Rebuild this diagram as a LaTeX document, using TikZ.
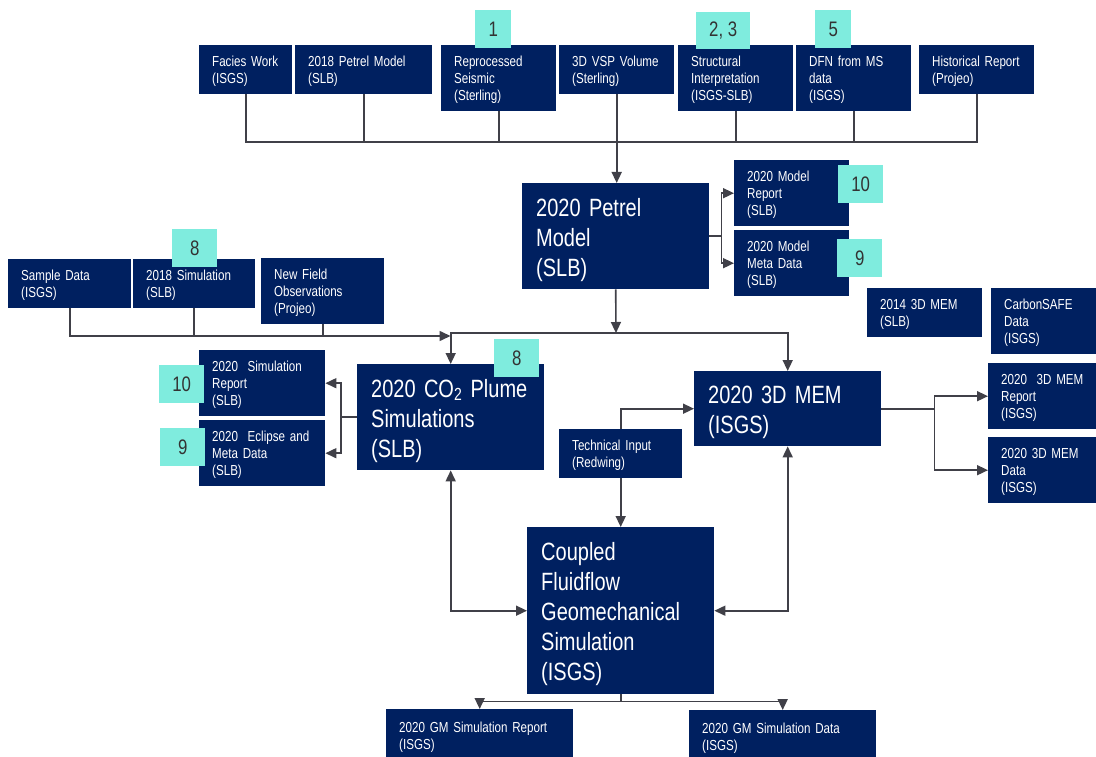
\documentclass[tikz,border=0pt]{standalone}
\usepackage{fontspec}
\setmainfont{Liberation Sans}[FakeStretch=0.8]
\usetikzlibrary{arrows.meta}

\definecolor{navy}{RGB}{0,32,96}
\definecolor{badgecyan}{RGB}{127,236,222}
\definecolor{badgegray}{RGB}{51,51,51}
\definecolor{linegray}{RGB}{64,64,72}
\newcommand{\smalltxt}{\fontsize{14.5}{17}\selectfont}
\newcommand{\bigtxt}{\fontsize{25}{30}\selectfont}
\newcommand{\badgetxt}{\fontsize{21}{24}\selectfont}

\begin{document}
\begin{tikzpicture}[x=1pt,y=-1pt,>={Triangle[length=11pt,width=10pt]},
    box/.style 2 args={fill=navy,text=white,anchor=north west,align=left,
      inner xsep=13pt,inner ysep=0pt,text width=#1pt,minimum height=#2pt,
      text height=14.5pt,font=\smalltxt},
    bigbox/.style 2 args={box={#1}{#2},inner xsep=14pt,text height=25pt,font=\bigtxt},
    badge/.style 2 args={fill=badgecyan,text=badgegray,anchor=north west,inner sep=0pt,
      minimum width=#1pt,minimum height=#2pt,font=\badgetxt},
    link/.style={draw=linegray,line width=1.6pt}]

  \fill[white] (0,0) rectangle (1096,757);
  \useasboundingbox (0,0) rectangle (1096,757);

  % inputs
  \node[box={67}{49}]  (facies)   at (199,45) {Facies Work\\(ISGS)};
  \node[box={111}{49}] (oldpetrel) at (295,45) {2018 Petrel Model\\(SLB)};
  \node[box={89}{66}]  (seismic)  at (441,45) {Reprocessed\\Seismic\\(Sterling)};
  \node[box={89}{49}]  (vsp)      at (559,45) {3D VSP Volume\\(Sterling)};
  \node[box={89}{66}]  (struct)   at (678,45) {Structural\\Interpretation\\(ISGS-SLB)};
  \node[box={89}{66}]  (dfn)      at (796,45) {DFN from MS\\data\\(ISGS)};
  \node[box={89}{49}]  (hist)     at (919,45) {Historical Report\\(Projeo)};

  \node[bigbox={159}{106}] (petrel) at (522,183) {2020 Petrel\\Model\\(SLB)};
  \node[box={89}{66}]  (mreport)  at (734,160) {2020 Model\\Report\\(SLB)};
  \node[box={89}{66}]  (mmeta)    at (734,230) {2020 Model\\Meta Data\\(SLB)};

  \node[box={97}{49}]  (sample)   at (8,259)   {Sample Data\\(ISGS)};
  \node[box={96}{49}]  (oldsim)   at (133,259) {2018 Simulation\\(SLB)};
  \node[box={97}{66}]  (newfield) at (261,258) {New Field\\Observations\\(Projeo)};
  \node[box={89}{49}]  (oldmem)   at (867,288) {2014 3D MEM\\(SLB)};
  \node[box={89}{66}]  (carbon)   at (991,288) {CarbonSAFE\\Data\\(ISGS)};

  \node[box={100}{66}] (simrep)   at (199,350) {2020\ \ Simulation\\Report\\(SLB)};
  \node[box={100}{66}] (eclipse)  at (199,420) {2020\ \ Eclipse and\\Meta Data\\(SLB)};
  \node[bigbox={159}{106}] (co2)  at (357,364) {2020 CO\textsubscript{2} Plume\\Simulations\\(SLB)};
  \node[bigbox={159}{75}]  (mem)  at (694,371) {2020 3D MEM\\(ISGS)};
  \node[box={89}{66}]  (memrep)   at (988,363) {2020\ \ 3D MEM\\Report\\(ISGS)};
  \node[box={89}{66}]  (memdata)  at (988,437) {2020 3D MEM\\Data\\(ISGS)};
  \node[box={97}{49}]  (tech)     at (559,429) {Technical Input\\(Redwing)};

  \node[bigbox={159}{167}] (coupled) at (527,527) {Coupled\\Fluidflow\\Geomechanical\\Simulation\\(ISGS)};
  \node[box={161}{53}] (gmrep)    at (386,709) {2020 GM Simulation Report\\(ISGS)};
  \node[box={161}{53}] (gmdata)   at (689,710) {2020 GM Simulation Data\\(ISGS)};

  % connectors
  \coordinate (topbus) at (0,142);
  \coordinate (lbus) at (450.5,336);
  \coordinate (junc) at (616,333);

  \draw[link] (facies.south) -- (facies.south |- topbus) -- (hist.south |- topbus) -- (hist.south);
  \draw[link] (oldpetrel.south) -- (oldpetrel.south |- topbus);
  \draw[link] (seismic.south) -- (seismic.south |- topbus);
  \draw[link] (struct.south) -- (struct.south |- topbus);
  \draw[link] (dfn.south) -- (dfn.south |- topbus);
  \draw[link,->] (vsp.south) -- (vsp.south |- petrel.north);

  \draw[link,->] (petrel.east) -- ++(12,0) |- (mreport.west);
  \draw[link,->] (petrel.east) -- ++(12,0) |- (mmeta.west);

  \draw[link,->] (sample.south) |- (lbus);
  \draw[link] (oldsim.south) -- (oldsim.south |- lbus);
  \draw[link] (newfield.south) -- (newfield.south |- lbus);

  \draw[link,->] (petrel.south) -- (junc);
  \draw[link,->] (junc) -| (co2.north);
  \draw[link,->] (junc) -| (mem.north);

  \draw[link,->] (co2.west) -- ++(-16,0) |- (simrep.east);
  \draw[link,->] (co2.west) -- ++(-16,0) |- (eclipse.east);

  \draw[link,->] (tech.north) |- (mem.west);
  \draw[link,->] (tech.south) -- (tech.south |- coupled.north);

  \draw[link,->] (mem.east) -- ++(53,0) |- (memrep.west);
  \draw[link,->] (mem.east) -- ++(53,0) |- (memdata.west);

  \draw[link,<->] (co2.south) |- (coupled.west);
  \draw[link,<->] (mem.south) |- (coupled.east);

  \draw[link,->] (coupled.south) -- ++(0,7) -| (gmrep.north);
  \draw[link,->] (coupled.south) -- ++(0,7) -| (gmdata.north);

  % numbers
  \node[badge={36}{38}] (b1)   at (475,10)  {1};
  \node[badge={54}{37}] (b23)  at (696,12)  {2, 3};
  \node[badge={36}{38}] (b5)   at (815,10)  {5};
  \node[badge={45}{38}] (b10a) at (838,165) {10};
  \node[badge={45}{38}] (b9a)  at (837,239) {9};
  \node[badge={45}{38}] (b8a)  at (172,229) {8};
  \node[badge={45}{38}] (b8b)  at (494,339) {8};
  \node[badge={45}{38}] (b10b) at (159,365) {10};
  \node[badge={45}{38}] (b9b)  at (160,428) {9};
\end{tikzpicture}
\end{document}
